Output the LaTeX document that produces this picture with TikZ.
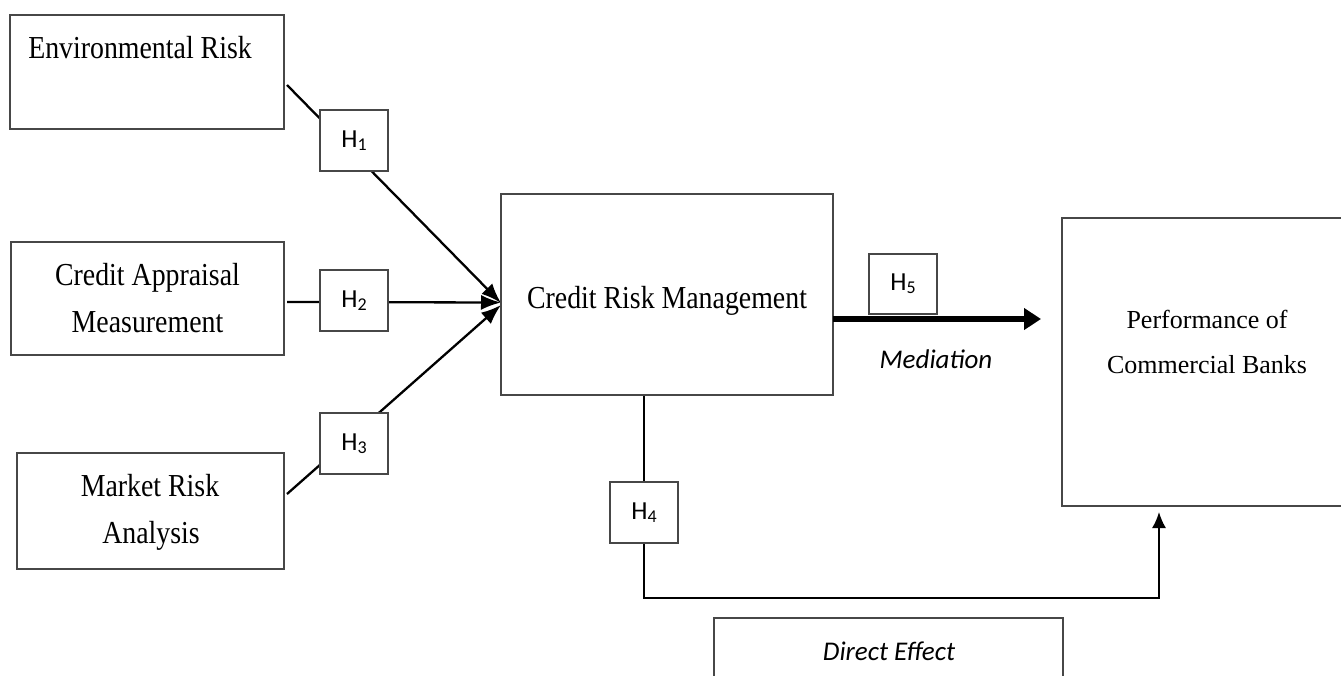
\documentclass[tikz,border=0pt]{standalone}
\usepackage{fontspec}
\setmainfont{Liberation Serif}
\newfontfamily\calfont{Carlito}
\usetikzlibrary{arrows.meta,backgrounds}
\newcommand{\hyp}[1]{{\calfont\fontsize{26}{26}\selectfont H\raisebox{-3pt}{\fontsize{18}{18}\selectfont #1}}}
\newcommand{\cond}[1]{\scalebox{0.87}[1]{#1}}
\begin{document}
\begin{tikzpicture}[x=1pt,y=-1pt,
  box/.style={draw=black!72, line width=1.6pt, inner sep=0pt, outer sep=0pt, rectangle},
  hbox/.style={box, fill=white, minimum width=68pt, minimum height=61pt},
  conn/.style={draw=black, line width=2.3pt},
  inarrow/.style={conn, -{Latex[length=20pt,width=15pt]}},
  serif/.style={font=\fontsize{32}{32}\selectfont, anchor=base, inner sep=0pt},
  serifs/.style={font=\fontsize{26}{26}\selectfont, anchor=base, inner sep=0pt},
  ital/.style={font=\calfont\itshape\fontsize{27}{27}\selectfont, anchor=base, inner sep=0pt}]
\useasboundingbox (0,0) rectangle (1341,675);
\clip (0,0) rectangle (1341,675);

% main boxes
\node[box, minimum width=274pt, minimum height=114pt] (env) at (147,72) {};
\node[box, minimum width=273pt, minimum height=113pt] (ca) at (147.5,298.5) {};
\node[box, minimum width=267pt, minimum height=116pt] (mr) at (150.5,511) {};
\node[box, minimum width=332pt, minimum height=201pt] (crm) at (667,294.5) {};
\node[box, minimum width=290pt, minimum height=288pt] (perf) at (1207,362) {};
\node[box, minimum width=349pt, minimum height=82pt] (de) at (888.5,659) {};

% texts
\node[serif] (tenv) at (140,58) {\cond{Environmental Risk}};
\node[serif] (tca1) at (147.5,285) {\cond{Credit Appraisal}};
\node[serif] (tca2) at (147.5,332) {\cond{Measurement}};
\node[serif] (tmr1) at (150,496) {\cond{Market Risk}};
\node[serif] (tmr2) at (151,543) {\cond{Analysis}};
\node[serif] (tcrm) at (667,308) {\cond{Credit Risk Management}};
\node[serifs] (tp1) at (1207,328) {Performance of};
\node[serifs] (tp2) at (1207,373) {Commercial Banks};
\node[ital] (tmed) at (936,368) {Mediation};
\node[ital] (tde) at (889,660) {Direct Effect};

% hypothesis boxes
\node[hbox] (h1) at (354,140.5) {\hyp{1}};
\node[hbox] (h2) at (354,300.5) {\hyp{2}};
\node[hbox] (h3) at (354,443.5) {\hyp{3}};
\node[hbox] (h4) at (644,512.5) {\hyp{4}};
\node[hbox, minimum height=60pt] (h5) at (903,284) {\hyp{5}};

\coordinate (medend) at (1041,319);

\begin{scope}[on background layer]
\fill[white] (0,0) rectangle (1341,675);
\draw[inarrow] ([xshift=3pt,yshift=-13pt]env.east) -- ([yshift=-8.5pt]crm.west);
\draw[inarrow] ([xshift=3pt,yshift=-3.5pt]ca.east) -- ([yshift=-8pt]crm.west);
\draw[inarrow] ([xshift=3pt,yshift=17pt]mr.east) -- ([yshift=-10.5pt]crm.west);
\draw[conn, line width=1.8pt, -{Latex[length=16pt,width=14pt]}]
  ([xshift=-23pt]crm.south) -- (h4.center) -- (h4.center |- 0,598)
  -| ([xshift=-48pt,yshift=-6pt]perf.south);
\end{scope}
\draw[line width=6pt, -{Triangle[length=17pt,width=21pt]}] ([yshift=-24.5pt]crm.east) -- (medend);
\end{tikzpicture}
\end{document}
